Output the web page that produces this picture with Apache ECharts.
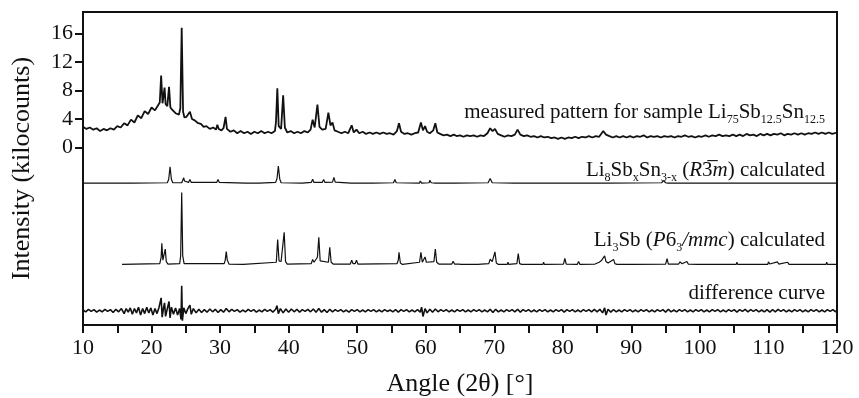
<!DOCTYPE html>
<html>
<head>
<meta charset="utf-8">
<script src="https://cdn.jsdelivr.net/npm/echarts@6/dist/echarts.min.js"></script>
<style>
  html, body { margin: 0; padding: 0; background: #fff; }
  #chart { width: 859px; height: 398px; }
</style>
</head>
<body>
<div id="chart"></div>
<script>
// measured pattern, kilocounts
const measured = [
  [10.0,2.9],[10.5,2.6],[11.0,2.8],[11.5,2.5],[12.0,2.7],[12.5,2.3],[13.0,2.6],[13.5,2.4],[14.0,2.7],[14.5,2.5],
  [15.0,3.0],[15.5,2.8],[16.0,3.4],[16.5,3.1],[17.0,3.9],[17.5,3.5],[18.0,4.5],[18.5,4.1],[19.0,5.1],[19.5,4.7],
  [20.0,5.6],[20.5,5.2],[21.0,6.0],[21.2,6.3],[21.4,10.1],[21.6,6.2],[21.75,6.4],[21.9,8.4],[22.05,6.1],[22.3,5.8],
  [22.55,8.5],[22.75,5.6],[23.0,5.3],[23.5,4.8],[24.0,4.6],[24.2,5.5],[24.4,16.8],[24.6,5.0],[24.8,4.2],[25.1,4.3],
  [25.6,5.0],[25.9,4.0],[26.3,3.8],[26.8,3.4],[27.2,3.3],[27.6,2.9],[28.0,3.0],[28.5,2.6],[29.0,2.8],[29.4,2.5],
  [29.6,3.2],[29.8,2.6],[30.2,2.4],[30.5,2.7],[30.8,4.3],[31.0,2.6],[31.5,2.2],[32.0,2.4],[32.5,2.0],[33.0,2.3],
  [33.5,2.0],[34.0,2.2],[34.5,1.9],[35.0,2.2],[35.5,2.0],[36.0,2.3],[36.5,2.0],[37.0,2.2],[37.5,2.0],[38.0,2.3],
  [38.15,3.5],[38.35,8.3],[38.55,3.0],[38.9,2.6],[39.2,7.3],[39.45,2.8],[39.8,2.1],[40.3,2.3],[40.8,2.0],[41.3,2.2],
  [41.8,2.0],[42.3,2.3],[42.8,2.1],[43.2,2.5],[43.5,3.9],[43.8,2.8],[44.2,6.0],[44.5,2.9],[44.9,2.5],[45.4,2.6],
  [45.8,4.9],[46.1,3.1],[46.4,3.5],[46.7,2.4],[47.2,2.2],[47.7,2.0],[48.2,2.2],[48.7,2.0],[49.2,3.1],[49.5,2.1],
  [49.9,2.5],[50.3,2.0],[50.8,2.2],[51.3,1.9],[51.8,2.1],[52.3,1.9],[52.8,2.1],[53.3,1.9],[53.8,2.1],[54.3,1.9],
  [54.8,2.0],[55.3,1.8],[55.8,2.3],[56.1,3.4],[56.4,2.2],[56.9,1.9],[57.4,2.0],[57.9,1.8],[58.4,2.0],[58.9,2.1],
  [59.3,3.5],[59.6,2.4],[59.9,3.0],[60.2,2.2],[60.6,2.0],[61.1,2.4],[61.4,3.4],[61.7,2.1],[62.1,1.9],[62.6,1.7],
  [63.1,1.8],[63.6,1.6],[64.1,1.8],[64.5,1.6],[65.0,1.7],[65.5,1.5],[66.0,1.7],[66.5,1.6],[67.0,1.7],[67.5,1.5],
  [68.0,1.7],[68.5,1.6],[69.0,2.0],[69.4,2.7],[69.75,2.3],[70.1,2.6],[70.5,1.9],[71.0,1.7],[71.5,1.5],[72.0,1.7],
  [72.5,1.6],[73.0,1.8],[73.4,2.5],[73.8,1.8],[74.3,1.6],[74.8,1.7],[75.3,1.5],[75.8,1.6],[76.3,1.4],[76.8,1.6],
  [77.3,1.4],[77.8,1.5],[78.3,1.3],[78.8,1.4],[79.3,1.2],[79.8,1.4],[80.3,1.2],[80.8,1.4],[81.3,1.3],[81.8,1.5],
  [82.3,1.3],[82.8,1.5],[83.3,1.4],[83.8,1.6],[84.3,1.4],[84.8,1.6],[85.3,1.5],[85.9,2.3],[86.3,1.8],[86.8,1.6],
  [87.3,1.4],[87.8,1.6],[88.3,1.4],[88.8,1.6],[89.3,1.4],[89.8,1.6],[90.3,1.4],[90.8,1.6],[91.3,1.5],[91.8,1.7],
  [92.3,1.4],[92.8,1.6],[93.3,1.5],[93.8,1.6],[94.3,1.4],[94.8,1.6],[95.3,1.5],[95.8,1.6],[96.3,1.4],[96.8,1.6],
  [97.3,1.5],[97.8,1.7],[98.3,1.5],[98.8,1.6],[99.3,1.4],[99.8,1.6],[100.3,1.5],[100.8,1.7],[101.3,1.5],[101.8,1.7],
  [102.3,1.6],[102.8,1.8],[103.3,1.6],[103.8,1.7],[104.3,1.6],[104.8,1.8],[105.3,1.6],[105.8,1.8],[106.3,1.6],[106.8,1.9],
  [107.3,1.7],[107.8,1.8],[108.3,1.6],[108.8,1.9],[109.3,1.7],[109.8,1.9],[110.3,1.7],[110.8,1.9],[111.3,1.8],[111.8,2.0],
  [112.3,1.7],[112.8,1.9],[113.3,1.8],[113.8,2.0],[114.3,1.8],[114.8,2.0],[115.3,1.8],[115.8,2.0],[116.3,1.9],[116.8,2.1],
  [117.3,1.9],[117.8,2.1],[118.3,1.9],[118.8,2.1],[119.3,1.9],[120.0,2.1]
];

// calculated Li8SbxSn3-x (R-3m), arbitrary units above its baseline
const calcR3m = [
  [10,0],[16.8,0],[17.0,0.1],[17.2,0],[22.3,0.05],[22.5,0.5],[22.7,2.3],[22.9,0.5],[23.1,0.05],[24.4,0.05],
  [24.6,0.3],[24.7,0.75],[24.8,0.3],[25.4,0.1],[25.6,0.5],[25.8,0.1],[26,0],[29.5,0.1],[29.7,0.5],[29.9,0.1],
  [30.1,0],[33.7,0],[33.8,0.1],[33.9,0],[35.7,0],[35.8,0.15],[35.9,0],[38.1,0.1],[38.3,0.6],[38.5,2.4],
  [38.7,0.6],[38.9,0.05],[42.0,0],[42.1,0.1],[42.2,0],[43.3,0.1],[43.5,0.55],[43.7,0.1],[44.9,0.1],[45.1,0.5],
  [45.3,0.1],[46.4,0.15],[46.6,0.8],[46.8,0.15],[47.0,0],[49.1,0],[49.2,0.2],[49.3,0],[52.3,0],[52.4,0.15],
  [52.5,0],[55.3,0.05],[55.5,0.5],[55.7,0.05],[59.1,0],[59.2,0.3],[59.4,0],[60.5,0.05],[60.6,0.4],[60.8,0.05],
  [61.4,0],[61.5,0.2],[61.6,0],[63.1,0],[63.2,0.15],[63.3,0],[64.2,0],[64.3,0.15],[64.4,0],[69.1,0.05],
  [69.4,0.65],[69.7,0.05],[72.9,0],[73.1,0.2],[73.3,0],[75.1,0],[75.3,0.2],[75.5,0],[76.5,0],[76.6,0.1],
  [76.7,0],[82.3,0],[82.5,0.1],[82.7,0],[86.4,0],[86.5,0.05],[86.6,0],[94.4,0.05],[94.7,0.35],[95.0,0.05],
  [95.3,0],[120,0]
];

// calculated Li3Sb (P63/mmc)
const calcP63 = [
  [15.7,0],[21.2,0.1],[21.4,1.0],[21.5,2.95],[21.65,0.6],[21.85,0.7],[22.0,2.15],[22.15,0.4],[22.4,0.05],[24.1,0.1],
  [24.25,1.2],[24.4,10.1],[24.55,1.2],[24.75,0.1],[30.6,0.1],[30.75,0.6],[30.9,1.8],[31.05,0.6],[31.3,0.05],[33.4,0],
  [33.5,0.1],[33.6,0],[38.2,0.3],[38.4,3.5],[38.6,0.5],[38.9,0.4],[39.35,4.5],[39.55,0.4],[39.8,0.05],[43.3,0.1],
  [43.5,0.7],[43.7,0.3],[44.2,1.0],[44.4,3.8],[44.6,0.5],[45.8,0.3],[46.0,2.4],[46.2,0.3],[46.5,0.05],[49.0,0.05],
  [49.2,0.6],[49.4,0.1],[49.7,0.1],[49.9,0.6],[50.1,0.05],[55.8,0.1],[56.0,0.6],[56.1,1.7],[56.3,0.2],[56.6,0],
  [59.1,0.3],[59.3,1.7],[59.5,0.3],[59.75,0.4],[59.9,1.05],[60.1,0.3],[61.2,0.4],[61.4,2.15],[61.6,0.3],[61.9,0.05],
  [63.8,0.05],[64.0,0.45],[64.2,0.05],[64.8,0.05],[65.0,0.3],[65.2,0],[67.6,0],[67.7,0.2],[67.8,0],[69.2,0.1],
  [69.4,0.75],[69.7,0.4],[70.1,1.75],[70.3,0.2],[70.6,0],[71.9,0],[72.0,0.3],[72.1,0],[73.3,0.1],[73.5,1.5],
  [73.7,0.1],[74.0,0],[77.1,0],[77.2,0.3],[77.3,0],[80.1,0.05],[80.3,0.85],[80.5,0.05],[82.1,0],[82.3,0.4],
  [82.5,0],[84.7,0.05],[84.9,0.3],[85.3,0.3],[85.6,0.5],[85.85,0.6],[86.1,1.2],[86.3,0.4],[86.6,0.2],[87.4,0.7],
  [87.6,0.1],[87.9,0],[90.2,0],[90.3,0.15],[90.4,0],[95.0,0.05],[95.2,0.8],[95.4,0.05],[96.9,0.05],[97.1,0.35],
  [97.4,0.1],[98.1,0.4],[98.3,0.05],[99.7,0],[99.8,0.2],[99.9,0],[105.3,0],[105.4,0.3],[105.5,0],[109.9,0],
  [110.0,0.35],[110.2,0.05],[111.3,0.35],[111.5,0.05],[112.8,0.3],[113.0,0],[118.4,0],[118.5,0.3],[118.6,0],[120,0]
];

// difference curve
const difference = [
  [10,0.1],[10.4,-0.15],[10.8,0.2],[11.2,-0.1],[11.6,0.15],[12,-0.2],[12.4,0.1],[12.8,-0.15],[13.2,0.2],[13.6,-0.1],
  [14,0.15],[14.4,-0.25],[14.8,0.2],[15.2,-0.15],[15.6,0.3],[16,-0.4],[16.3,0.3],[16.6,-0.2],[16.9,0.4],[17.2,-0.5],
  [17.5,0.3],[17.8,-0.3],[18.1,0.5],[18.4,-0.6],[18.7,0.3],[19,-0.4],[19.3,0.5],[19.6,-0.3],[19.9,0.4],[20.2,-0.6],
  [20.5,0.3],[20.8,-0.4],[21.1,0.5],[21.4,1.8],[21.55,-0.9],[21.75,0.4],[21.9,1.1],[22.05,-0.8],[22.3,0.3],[22.55,1.3],
  [22.7,-1.0],[22.9,0.5],[23.2,-0.5],[23.5,0.4],[23.8,-0.6],[24.1,0.3],[24.3,-1.2],[24.4,3.5],[24.5,-1.4],[24.7,0.4],
  [25.0,-0.4],[25.3,0.3],[25.6,0.8],[25.8,-0.5],[26.1,0.3],[26.5,-0.3],[26.9,0.2],[27.3,-0.25],[27.7,0.15],[28.1,-0.2],
  [28.5,0.25],[28.9,-0.15],[29.3,0.2],[29.7,-0.25],[30.1,0.15],[30.5,-0.2],[30.9,0.3],[31.3,-0.15],[31.7,0.2],[32.1,-0.1],
  [32.5,0.15],[32.9,-0.2],[33.3,0.1],[33.7,-0.15],[34.1,0.2],[34.5,-0.1],[34.9,0.15],[35.3,-0.2],[35.7,0.1],[36.1,-0.15],
  [36.5,0.2],[36.9,-0.1],[37.3,0.15],[37.7,-0.2],[38.1,0.2],[38.3,0.7],[38.5,-0.4],[38.8,0.3],[39.2,-0.3],[39.6,0.25],
  [40,-0.2],[40.4,0.25],[40.8,-0.15],[41.2,0.2],[41.6,-0.2],[42,0.15],[42.4,-0.1],[42.8,0.2],[43.2,-0.15],[43.6,0.25],
  [44,-0.2],[44.4,0.3],[44.8,-0.2],[45.2,0.15],[45.6,-0.25],[46,0.2],[46.4,-0.15],[46.8,0.15],[47.2,-0.1],[47.6,0.15],
  [48,-0.15],[48.4,0.1],[48.8,-0.2],[49.2,0.15],[49.6,-0.1],[50,0.15],[50.4,-0.15],[50.8,0.1],[51.2,-0.15],[51.6,0.15],
  [52,-0.1],[52.4,0.15],[52.8,-0.15],[53.2,0.1],[53.6,-0.15],[54,0.15],[54.4,-0.1],[54.8,0.1],[55.2,-0.15],[55.6,0.15],
  [56,-0.2],[56.4,0.15],[56.8,-0.1],[57.2,0.15],[57.6,-0.15],[58,0.1],[58.4,-0.15],[58.8,0.15],[59.2,-0.2],[59.4,0.5],
  [59.6,-0.8],[59.9,0.3],[60.2,-0.3],[60.6,0.2],[61,-0.2],[61.4,0.25],[61.8,-0.15],[62.2,0.15],[62.6,-0.1],[63,0.15],
  [63.4,-0.15],[63.8,0.1],[64.2,-0.15],[64.6,0.15],[65,-0.1],[65.4,0.15],[65.8,-0.15],[66.2,0.1],[66.6,-0.15],[67,0.15],
  [67.4,-0.1],[67.8,0.15],[68.2,-0.15],[68.6,0.1],[69,-0.15],[69.4,0.2],[69.8,-0.25],[70.2,0.2],[70.6,-0.15],[71,0.1],
  [71.4,-0.15],[71.8,0.15],[72.2,-0.1],[72.6,0.15],[73,-0.15],[73.4,0.2],[73.8,-0.2],[74.2,0.15],[74.6,-0.1],[75,0.15],
  [75.4,-0.15],[75.8,0.1],[76.2,-0.15],[76.6,0.15],[77,-0.1],[77.4,0.15],[77.8,-0.15],[78.2,0.1],[78.6,-0.15],[79,0.15],
  [79.4,-0.1],[79.8,0.15],[80.2,-0.2],[80.6,0.15],[81,-0.1],[81.4,0.15],[81.8,-0.15],[82.2,0.1],[82.6,-0.15],[83,0.15],
  [83.4,-0.1],[83.8,0.15],[84.2,-0.15],[84.6,0.2],[85,-0.15],[85.4,0.2],[85.8,-0.3],[86.1,0.4],[86.3,-0.6],[86.6,0.2],
  [87,-0.2],[87.4,0.15],[87.8,-0.15],[88.2,0.1],[88.6,-0.15],[89,0.15],[89.4,-0.1],[89.8,0.15],[90.2,-0.15],[90.6,0.1],
  [91,-0.15],[91.4,0.15],[91.8,-0.1],[92.2,0.15],[92.6,-0.15],[93,0.1],[93.4,-0.15],[93.8,0.15],[94.2,-0.1],[94.6,0.15],
  [95,-0.2],[95.4,0.2],[95.8,-0.15],[96.2,0.1],[96.6,-0.15],[97,0.15],[97.4,-0.1],[97.8,0.15],[98.2,-0.15],[98.6,0.1],
  [99,-0.15],[99.4,0.15],[99.8,-0.1],[100.2,0.15],[100.6,-0.15],[101,0.1],[101.4,-0.15],[101.8,0.15],[102.2,-0.1],[102.6,0.15],
  [103,-0.15],[103.4,0.1],[103.8,-0.15],[104.2,0.15],[104.6,-0.1],[105,0.15],[105.4,-0.2],[105.8,0.15],[106.2,-0.1],[106.6,0.2],
  [107,-0.15],[107.4,0.15],[107.8,-0.1],[108.2,0.15],[108.6,-0.15],[109,0.1],[109.4,-0.15],[109.8,0.15],[110.2,-0.2],[110.6,0.15],
  [111,-0.15],[111.4,0.2],[111.8,-0.1],[112.2,0.15],[112.6,-0.15],[113,0.1],[113.4,-0.15],[113.8,0.15],[114.2,-0.1],[114.6,0.15],
  [115,-0.15],[115.4,0.1],[115.8,-0.15],[116.2,0.15],[116.6,-0.1],[117,0.15],[117.4,-0.15],[117.8,0.1],[118.2,-0.15],[118.6,0.15],
  [119,-0.1],[119.4,0.15],[119.8,-0.15],[120,0.1]
];

const yTicks = [0, 4, 8, 12, 16];

// vertical offsets of the stacked traces
const shift = (arr, d) => arr.map(([x, y]) => [x, y + d]);

const serif = '"Liberation Serif", "DejaVu Serif", serif';
const ink = '#111';

const sub = { fontSize: 12, fontFamily: serif, color: ink, verticalAlign: 'bottom', lineHeight: 12, padding: [0, 0, -2, 0] };
const base = { fontSize: 21, fontFamily: serif, color: ink, lineHeight: 23 };
const ital = Object.assign({}, base, { fontStyle: 'italic' });

const label = (y, text) => ({
  type: 'text',
  x: 825,
  y: y,
  style: {
    text: text,
    align: 'right',
    verticalAlign: 'middle',
    fontSize: 21,
    fontFamily: serif,
    fill: ink,
    rich: { n: base, s: sub, i: ital }
  }
});

const chart = echarts.init(document.getElementById('chart'));

chart.setOption({
  backgroundColor: '#fff',
  animation: false,
  grid: {
    left: 83, right: 22, top: 12, bottom: 73,
    outerBoundsMode: 'none',
    containLabel: false,
    show: true, borderColor: ink, borderWidth: 2
  },
  xAxis: {
    type: 'value',
    min: 10, max: 120, interval: 10,
    name: 'Angle (2θ) [°]',
    nameLocation: 'middle',
    nameGap: 46,
    nameTextStyle: { fontSize: 26, fontFamily: serif, color: ink },
    axisLine: { onZero: false, lineStyle: { color: ink, width: 2 } },
    axisTick: { length: 8, lineStyle: { color: ink, width: 2 } },
    minorTick: { show: true, splitNumber: 2, length: 8, lineStyle: { color: ink, width: 2 } },
    splitLine: { show: false },
    axisLabel: { fontSize: 22, fontFamily: serif, color: ink, margin: 12 }
  },
  yAxis: {
    type: 'value',
    min: -24.9, max: 19,
    name: 'Intensity (kilocounts)',
    nameLocation: 'middle',
    nameGap: 48,
    nameTextStyle: { fontSize: 26, fontFamily: serif, color: ink },
    axisLine: { show: true, onZero: false, lineStyle: { color: ink, width: 2 } },
    axisTick: { show: true, length: 8, customValues: yTicks, lineStyle: { color: ink, width: 2 } },
    splitLine: { show: false },
    axisLabel: { fontSize: 22, fontFamily: serif, color: ink, margin: 10, customValues: yTicks }
  },
  graphic: [
    label(112, '{n|measured pattern for sample Li}{s|75}{n|Sb}{s|12.5}{n|Sn}{s|12.5}'),
    label(170, '{n|Li}{s|8}{n|Sb}{s|x}{n|Sn}{s|3-x}{n| (}{i|R}{n|3\u0305}{i|m}{n|) calculated}'),
    label(240, '{n|Li}{s|3}{n|Sb (}{i|P}{n|6}{s|3}{i|/mmc}{n|) calculated}'),
    label(293, '{n|difference curve}')
  ],
  series: [
    { name: 'measured', type: 'line', data: measured, showSymbol: false, silent: true,
      lineStyle: { color: ink, width: 1.8 } },
    { name: 'R-3m calculated', type: 'line', data: shift(calcR3m, -5.0), showSymbol: false, silent: true,
      lineStyle: { color: ink, width: 1.2 } },
    { name: 'P63/mmc calculated', type: 'line', data: shift(calcP63, -16.4), showSymbol: false, silent: true,
      lineStyle: { color: ink, width: 1.2 } },
    { name: 'difference', type: 'line', data: shift(difference, -22.9), showSymbol: false, silent: true,
      lineStyle: { color: ink, width: 1.6 } }
  ]
});
</script>
</body>
</html>
